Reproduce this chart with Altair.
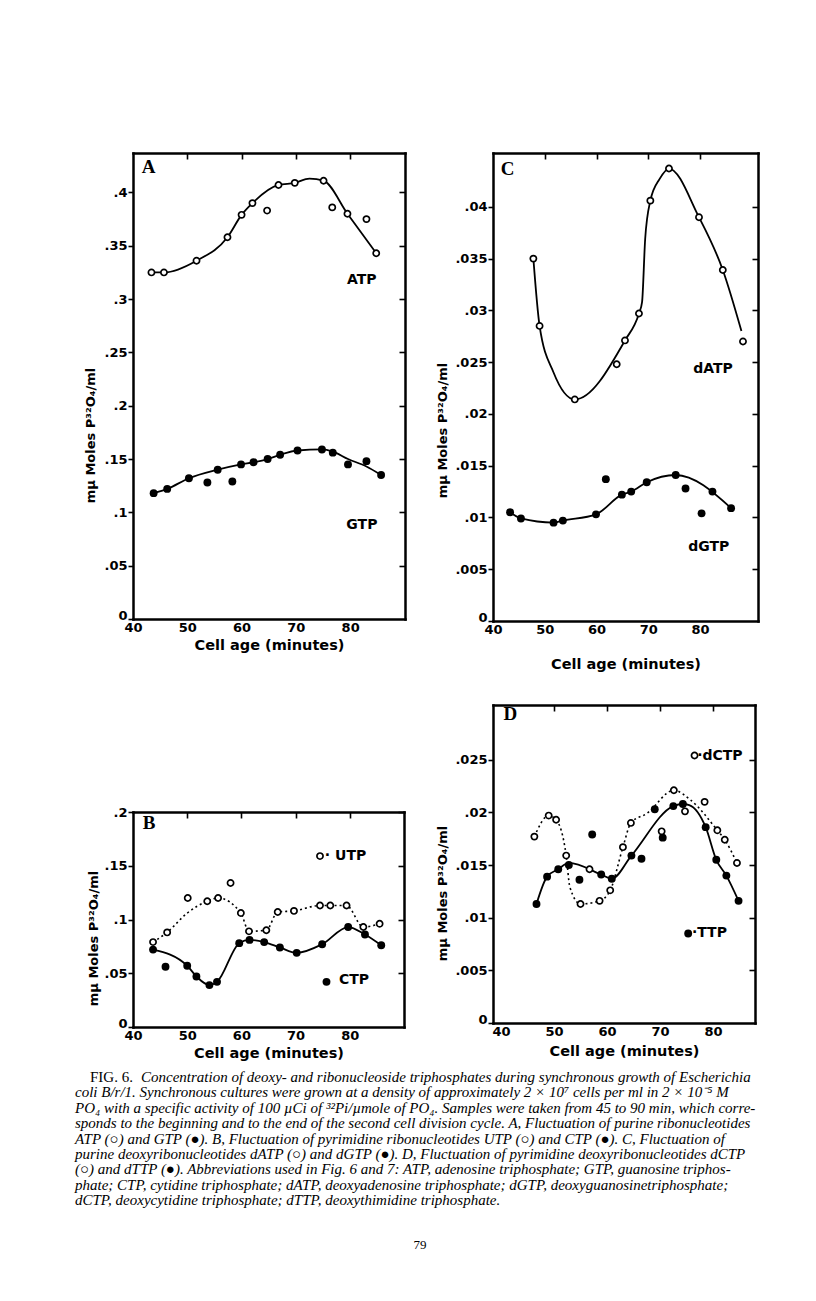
import altair as alt
import pandas as pd

# ---------------- Panel A : ATP (open) / GTP (filled) ----------------
atp_x = [43.4, 45.7, 51.7, 57.4, 60.0, 62.0, 64.7, 66.8, 69.8, 75.1, 76.7, 79.5, 83.0, 84.8]
atp_y = [0.325, 0.325, 0.336, 0.358, 0.379, 0.390, 0.383, 0.407, 0.409, 0.411, 0.386, 0.380, 0.375, 0.343]
atp_curve_x = [43.4, 45.7, 51.7, 57.4, 60.0, 62.0, 66.8, 69.8, 72.5, 75.1, 79.5, 84.8]
atp_curve_y = [0.325, 0.325, 0.336, 0.358, 0.379, 0.390, 0.407, 0.409, 0.413, 0.411, 0.380, 0.343]
gtp_x = [43.8, 46.3, 50.3, 53.7, 55.6, 58.3, 59.9, 62.2, 64.8, 67.1, 70.3, 74.8, 76.8, 79.6, 83.0, 85.7]
gtp_y = [0.118, 0.122, 0.132, 0.128, 0.140, 0.129, 0.145, 0.147, 0.150, 0.154, 0.158, 0.159, 0.156, 0.145, 0.148, 0.135]
gtp_curve_x = [43.8, 46.3, 50.3, 55.6, 59.9, 62.2, 64.8, 67.1, 70.3, 74.8, 76.8, 79.6, 83.0, 85.7]
gtp_curve_y = [0.118, 0.122, 0.132, 0.140, 0.145, 0.147, 0.150, 0.154, 0.158, 0.159, 0.157, 0.150, 0.143, 0.135]
a_label_text = ["ATP", "GTP"]
a_label_x = [79.4, 79.3]
a_label_y = [0.318, 0.088]

# ---------------- Panel C : dATP (open) / dGTP (filled) ----------------
datp_x = [47.8, 49.0, 55.8, 63.9, 65.5, 68.2, 70.4, 74.0, 79.8, 84.4, 88.3]
datp_y = [0.0350, 0.0285, 0.0214, 0.0248, 0.0271, 0.0297, 0.0406, 0.0437, 0.0390, 0.0339, 0.0270]
datp_curve_x = [47.8, 49.0, 51.7, 55.8, 65.5, 68.2, 68.8, 69.4, 70.4, 72.2, 74.0, 79.8, 84.4, 88.0]
datp_curve_y = [0.0350, 0.0285, 0.0240, 0.0214, 0.0271, 0.0297, 0.0308, 0.0369, 0.0406, 0.0427, 0.0437, 0.0390, 0.0339, 0.0280]
dgtp_x = [43.3, 45.4, 51.7, 53.5, 59.9, 61.8, 64.9, 66.7, 69.7, 75.3, 77.2, 80.3, 82.4, 86.0]
dgtp_y = [0.0105, 0.0099, 0.0095, 0.0097, 0.0103, 0.0137, 0.0122, 0.0125, 0.0134, 0.0141, 0.0128, 0.0104, 0.0125, 0.0109]
dgtp_curve_x = [43.3, 45.4, 51.7, 53.5, 59.9, 64.9, 66.7, 69.7, 75.3, 86.0]
dgtp_curve_y = [0.0105, 0.0099, 0.0095, 0.0097, 0.0103, 0.0122, 0.0125, 0.0134, 0.0141, 0.0109]
c_label_text = ["dATP", "dGTP"]
c_label_x = [78.7, 77.7]
c_label_y = [0.0243, 0.0071]

# ---------------- Panel B : UTP (open, dotted) / CTP (filled) ----------------
utp_x = [43.7, 46.3, 50.1, 53.7, 55.7, 58.0, 59.9, 61.4, 64.6, 66.7, 69.7, 74.5, 76.4, 79.4, 82.5, 85.5]
utp_y = [0.079, 0.088, 0.120, 0.117, 0.120, 0.134, 0.106, 0.089, 0.090, 0.107, 0.108, 0.113, 0.113, 0.113, 0.093, 0.096]
utp_curve_x = [43.7, 46.3, 50.0, 53.7, 55.7, 59.9, 61.4, 64.6, 66.7, 69.7, 74.5, 76.4, 79.4, 82.5, 85.5]
utp_curve_y = [0.079, 0.088, 0.106, 0.117, 0.120, 0.106, 0.089, 0.090, 0.107, 0.108, 0.113, 0.113, 0.113, 0.093, 0.096]
ctp_x = [43.7, 46.0, 50.0, 51.7, 54.1, 55.5, 59.6, 61.5, 64.2, 67.1, 70.2, 74.9, 79.7, 82.8, 85.8]
ctp_y = [0.072, 0.056, 0.057, 0.047, 0.039, 0.042, 0.078, 0.081, 0.079, 0.074, 0.069, 0.077, 0.093, 0.086, 0.076]
ctp_curve_x = [43.7, 50.0, 51.7, 54.1, 55.5, 59.6, 61.5, 64.2, 67.1, 70.2, 74.9, 79.7, 82.8, 85.8]
ctp_curve_y = [0.072, 0.057, 0.047, 0.039, 0.042, 0.078, 0.081, 0.079, 0.074, 0.069, 0.077, 0.093, 0.086, 0.076]
b_label_text = ["· UTP", "CTP"]
b_label_x = [75.4, 78.0]
b_label_y = [0.159, 0.0435]
b_sym_open_x = [74.5]
b_sym_open_y = [0.159]
b_sym_fill_x = [75.7]
b_sym_fill_y = [0.042]

# ---------------- Panel D : dCTP (open, dotted) / dTTP (filled) ----------------
dctp_x = [46.3, 49.0, 50.4, 52.3, 55.0, 56.7, 58.6, 60.6, 63.0, 64.5, 70.3, 72.6, 74.7, 78.4, 80.8, 82.2, 84.5]
dctp_y = [0.0177, 0.0197, 0.0193, 0.0159, 0.0113, 0.0146, 0.0116, 0.0126, 0.0167, 0.0190, 0.0182, 0.0221, 0.0201, 0.0210, 0.0183, 0.0174, 0.0152]
dctp_curve_x = [46.3, 49.0, 50.4, 52.3, 53.0, 55.0, 58.6, 60.6, 63.0, 64.5, 67.5, 72.6, 75.7, 80.8, 82.2, 84.5]
dctp_curve_y = [0.0177, 0.0197, 0.0193, 0.0159, 0.0129, 0.0113, 0.0116, 0.0126, 0.0167, 0.0190, 0.0199, 0.0221, 0.0212, 0.0183, 0.0174, 0.0152]
dttp_x = [46.7, 48.7, 50.8, 52.8, 54.8, 57.2, 58.9, 60.9, 64.6, 66.5, 69.0, 70.5, 72.5, 74.3, 78.6, 80.6, 82.5, 84.8]
dttp_y = [0.0113, 0.0139, 0.0146, 0.0150, 0.0136, 0.0179, 0.0141, 0.0137, 0.0159, 0.0156, 0.0203, 0.0176, 0.0206, 0.0208, 0.0186, 0.0155, 0.0140, 0.0116]
dttp_curve_x = [46.7, 48.7, 50.8, 52.8, 58.9, 60.9, 64.6, 72.5, 74.3, 75.5, 78.6, 80.6, 82.5, 84.8]
dttp_curve_y = [0.0113, 0.0139, 0.0146, 0.0152, 0.0141, 0.0137, 0.0159, 0.0206, 0.0208, 0.0207, 0.0186, 0.0155, 0.0140, 0.0116]
d_label_text = ["·dCTP", "·TTP"]
d_label_x = [77.0, 76.0]
d_label_y = [0.0254, 0.0085]
d_sym_open_x = [76.5]
d_sym_open_y = [0.0254]
d_sym_fill_x = [75.3]
d_sym_fill_y = [0.0085]

# ---------------- panel letters ----------------
letters = ["A", "C", "B", "D"]
letter_x = [41.6, 41.5, 41.8, 40.5]
letter_y = [0.424, 0.0437, 0.19, 0.0293]

# ---------------- axis ticks ----------------
x_ticks = [40, 50, 60, 70, 80]
x_top_ticks = [50, 60, 70, 80]
a_y_ticks = [0, 0.05, 0.1, 0.15, 0.2, 0.25, 0.3, 0.35, 0.4]
c_y_ticks = [0, 0.005, 0.01, 0.015, 0.02, 0.025, 0.03, 0.035, 0.04]
b_y_ticks = [0, 0.05, 0.1, 0.15, 0.2]
d_y_ticks = [0, 0.005, 0.01, 0.015, 0.02, 0.025]

# ---------------- caption ----------------
fig_label = "FIG. 6."
caption_first = "Concentration of deoxy- and ribonucleoside triphosphates during synchronous growth of Escherichia"
caption_lines = [
    "coli B/r/1. Synchronous cultures were grown at a density of approximately 2 × 10⁷ cells per ml in 2 × 10⁻⁵ M",
    "PO₄ with a specific activity of 100 µCi of ³²Pi/µmole of PO₄. Samples were taken from 45 to 90 min, which corre-",
    "sponds to the beginning and to the end of the second cell division cycle. A, Fluctuation of purine ribonucleotides",
    "ATP (○) and GTP (●). B, Fluctuation of pyrimidine ribonucleotides UTP (○) and CTP (●). C, Fluctuation of",
    "purine deoxyribonucleotides dATP (○) and dGTP (●). D, Fluctuation of pyrimidine deoxyribonucleotides dCTP",
    "(○) and dTTP (●). Abbreviations used in Fig. 6 and 7: ATP, adenosine triphosphate; GTP, guanosine triphos-",
    "phate; CTP, cytidine triphosphate; dATP, deoxyadenosine triphosphate; dGTP, deoxyguanosinetriphosphate;",
    "dCTP, deoxycytidine triphosphate; dTTP, deoxythimidine triphosphate.",
]
caption_rows = [1, 2, 3, 4, 5, 6, 7, 8]
page_number = "79"
page_row = 10.9

Y_TITLE = "mµ Moles P³²O₄/ml"
X_TITLE = "Cell age (minutes)"
SANS = "DejaVu Sans"
SERIF = "Liberation Serif"
LABEL_EXPR = "datum.value == 0 ? '0' : replace(format(datum.value, '.3~f'), '0.', '.')"
CAP_SIZE = 15


def frame(xs, ys, **extra):
    d = {"x": xs, "y": ys}
    d.update(extra)
    return pd.DataFrame(d)


def panel(xdom, ydom, yticks, width, height, top_off, curves, opens, fills, labels,
          letter_idx, ytitle_pad, ytitle_y, xlab_pad, xtitle_pad):
    def X(axis):
        return alt.X("x:Q", scale=alt.Scale(domain=xdom, nice=False, zero=False), axis=axis)

    def Y(axis):
        return alt.Y("y:Q", scale=alt.Scale(domain=ydom, nice=False, zero=False,
                                            range=[height, top_off]), axis=axis)

    edge = dict(domain=True, domainColor="black", domainWidth=2.5, domainCap="square",
                grid=False, labels=False, ticks=False, title="")
    x_axis = alt.Axis(orient="bottom", values=x_ticks, ticks=False, labelPadding=xlab_pad,
                      title=X_TITLE, titlePadding=xtitle_pad, labelFlush=False,
                      labelOverlap=False, titleFontSize=14.5, grid=False, domain=True,
                      domainColor="black", domainWidth=2.5, domainCap="square")
    y_axis = alt.Axis(orient="left", values=yticks, labelExpr=LABEL_EXPR, tickSize=5,
                      tickWidth=1.6, labelPadding=1, title=Y_TITLE,
                      labelBaseline={"condition": {"test": "datum.value == 0", "value": "alphabetic"},
                                     "value": "middle"},
                      titlePadding=ytitle_pad, titleY=ytitle_y, labelFlush=False,
                      labelOverlap=False, grid=False, domain=True, domainColor="black",
                      domainWidth=2.5, domainCap="square")
    layers = []
    for i, (xs, ys, dashed) in enumerate(curves):
        kw = dict(color="black", strokeWidth=1.8, interpolate="monotone")
        if dashed:
            kw["strokeDash"] = [2, 3]
            kw["strokeWidth"] = 1.6
        ch = alt.Chart(frame(xs, ys)).mark_line(**kw)
        if i == 0:
            ch = ch.encode(x=X(x_axis), y=Y(y_axis))
        else:
            ch = ch.encode(x=X(None), y=Y(None))
        layers.append(ch)
    for xs, ys in fills:
        layers.append(alt.Chart(frame(xs, ys)).mark_circle(color="black", opacity=1, size=62)
                      .encode(x=X(None), y=Y(None)))
    for xs, ys in opens:
        layers.append(alt.Chart(frame(xs, ys)).mark_point(shape="circle", filled=True, fill="white",
                                                            stroke="black", strokeWidth=1.7,
                                                            opacity=1, size=38)
                      .encode(x=X(None), y=Y(None)))
    lt, lx, ly = labels
    layers.append(alt.Chart(frame(lx, ly, t=lt)).mark_text(font=SANS, fontWeight="bold", fontSize=14,
                                                           align="left", baseline="middle", color="black")
                  .encode(x=X(None), y=Y(None), text="t:N"))
    layers.append(alt.Chart(frame([letter_x[letter_idx]], [letter_y[letter_idx]], t=[letters[letter_idx]]))
                  .mark_text(font=SERIF, fontWeight="bold", fontSize=19,
                             align="left", baseline="middle", color="black")
                  .encode(x=X(None), y=Y(None), text="t:N"))
    xs0, ys0, _ = curves[0]
    # frame edges (top / right)
    layers.append(alt.Chart(frame(xs0, ys0)).mark_point(opacity=0)
                  .encode(x=X(alt.Axis(orient="top", offset=-top_off, **edge)),
                          y=Y(alt.Axis(orient="right", offset=0, **edge))))
    # inward ticks on the top and right edges
    layers.append(alt.Chart(frame(xs0, ys0)).mark_point(opacity=0)
                  .encode(x=X(alt.Axis(orient="top", values=x_top_ticks, labels=False, tickSize=6,
                                       tickWidth=1.6, offset=-(top_off + 6), title="", domain=False,
                                       grid=False)),
                          y=Y(alt.Axis(orient="right", values=yticks[1:], labels=False, tickSize=6,
                                       tickWidth=1.6, offset=-6, title="", domain=False, grid=False))))
    return (alt.layer(*layers)
            .resolve_axis(x="independent", y="independent")
            .properties(width=width, height=height))


panel_a = panel([40, 90.1], [0, 0.437], a_y_ticks, 272, 466, 0,
                [(atp_curve_x, atp_curve_y, False), (gtp_curve_x, gtp_curve_y, False)],
                [(atp_x, atp_y)], [(gtp_x, gtp_y)],
                (a_label_text, a_label_x, a_label_y), 0, 6, 282, 2, 4)

panel_c = panel([40, 91.2], [0, 0.0452], c_y_ticks, 265, 468, 0,
                [(datp_curve_x, datp_curve_y, False), (dgtp_curve_x, dgtp_curve_y, False)],
                [(datp_x, datp_y)], [(dgtp_x, dgtp_y)],
                (c_label_text, c_label_x, c_label_y), 1, 5, 277, 2, 21)

panel_b = panel([40, 90], [0, 0.2], b_y_ticks, 271, 322, 107,
                [(ctp_curve_x, ctp_curve_y, False), (utp_curve_x, utp_curve_y, True)],
                [(utp_x, utp_y), (b_sym_open_x, b_sym_open_y)],
                [(ctp_x, ctp_y), (b_sym_fill_x, b_sym_fill_y)],
                (b_label_text, b_label_x, b_label_y), 2, 3, 233, 2, 4)

panel_d = panel([38.5, 87.9], [0, 0.0302], d_y_ticks, 262, 318, 0,
                [(dttp_curve_x, dttp_curve_y, False), (dctp_curve_x, dctp_curve_y, True)],
                [(dctp_x, dctp_y), (d_sym_open_x, d_sym_open_y)],
                [(dttp_x, dttp_y), (d_sym_fill_x, d_sym_fill_y)],
                (d_label_text, d_label_x, d_label_y), 3, 5, 188, 2, 6)

cap_scale = alt.Scale(domain=[0, 10], range=[-34, 120])
cap_main = (alt.Chart(pd.DataFrame({"row": caption_rows, "t": caption_lines}))
            .mark_text(font=SERIF, fontStyle="italic", fontSize=CAP_SIZE, align="left",
                       baseline="middle", color="black")
            .encode(y=alt.Y("row:Q", scale=cap_scale, axis=None), x=alt.value(-58), text="t:N"))
cap_fig = (alt.Chart(pd.DataFrame({"row": [0], "t": [fig_label]}))
           .mark_text(font=SERIF, fontSize=CAP_SIZE, align="left", baseline="middle", color="black")
           .encode(y=alt.Y("row:Q", scale=cap_scale, axis=None), x=alt.value(-43), text="t:N"))
cap_first = (alt.Chart(pd.DataFrame({"row": [0], "t": [caption_first]}))
             .mark_text(font=SERIF, fontStyle="italic", fontSize=CAP_SIZE, align="left",
                        baseline="middle", color="black")
             .encode(y=alt.Y("row:Q", scale=cap_scale, axis=None), x=alt.value(8), text="t:N"))
cap_page = (alt.Chart(pd.DataFrame({"row": [page_row], "t": [page_number]}))
            .mark_text(font=SERIF, fontSize=13, align="center", baseline="middle", color="black")
            .encode(y=alt.Y("row:Q", scale=cap_scale, axis=None), x=alt.value(287), text="t:N"))
caption = alt.layer(cap_main, cap_fig, cap_first, cap_page).properties(width=272, height=140)

chart = (alt.concat(panel_a, panel_c, panel_b, panel_d, caption, columns=2, bounds="flush",
                    spacing=alt.RowColnumber(row=84, column=88))
         .properties(padding={"left": 67, "top": 144, "right": 5, "bottom": 5}, background="white")
         .configure_view(stroke=None)
         .configure_axis(labelFont=SANS, labelFontWeight="bold", labelFontSize=13, labelColor="black",
                         titleFont=SANS, titleFontWeight="bold", titleFontSize=13, titleColor="black",
                         tickColor="black", grid=False, domain=False))

chart.save("out.html", embed_options={"renderer": "svg", "actions": False})
